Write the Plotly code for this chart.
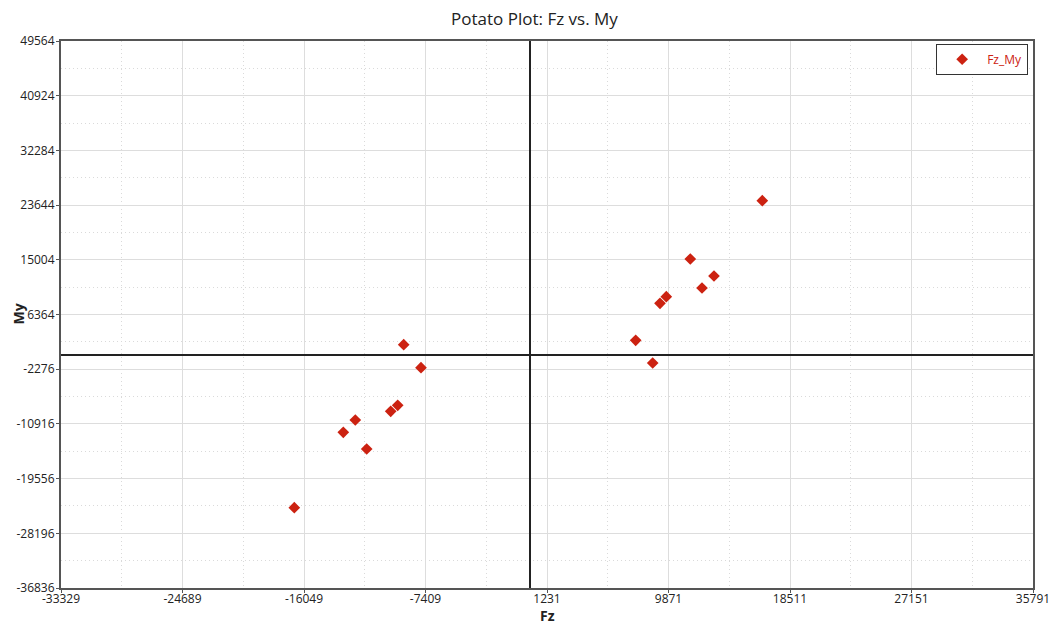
import plotly.graph_objects as go

fz = [-8959, -7729, -9386, -9884, -12401, -13254, -11591, -16739,
      16541, 11421, 13106, 12253, 9714, 9266, 7538, 8747]
my = [1594, -2038, -7977, -8925, -10299, -12242, -14880, -24151,
      24340, 15131, 12446, 10550, 9176, 8134, 2290, -1296]

x_ticks = [-33329, -24689, -16049, -7409, 1231, 9871, 18511, 27151, 35791]
y_ticks = [-36836, -28196, -19556, -10916, -2276, 6364, 15004, 23644, 32284, 40924, 49564]

red = "#CC2211"
font = "Open Sans, Noto Sans, sans-serif"

fig = go.Figure()
fig.add_trace(go.Scatter(
    x=fz, y=my, mode="markers", name="Fz_My",
    marker=dict(symbol="diamond", size=9, color=red),
))

axis_common = dict(
    showline=True, linecolor="#555555", linewidth=2, mirror=True,
    showgrid=True, gridcolor="#DDDDDD", gridwidth=1,
    zeroline=True, zerolinecolor="#222222", zerolinewidth=1.5,
    ticks="outside", ticklen=3, tickcolor="#555555",
    tickfont=dict(family=font, size=12, color="#222222"),
    automargin=False,
)

minor_common = dict(dtick=8640, showgrid=True, gridcolor="#DADADA", griddash="1px,3px", ticks="")

fig.update_xaxes(
    range=[x_ticks[0], x_ticks[-1]], tickvals=x_ticks, ticktext=[str(v) for v in x_ticks],
    minor=dict(tick0=x_ticks[0] + 4320, **minor_common),
    ticklabelstandoff=-4,
    **axis_common,
)
fig.update_yaxes(
    range=[y_ticks[0], y_ticks[-1]], tickvals=y_ticks, ticktext=[str(v) for v in y_ticks],
    minor=dict(tick0=y_ticks[0] + 4320, **minor_common),
    ticklabelstandoff=-1,
    **axis_common,
)

fig.add_annotation(text="<b>Fz</b>", xref="paper", yref="paper", x=0.5, y=0,
                   xanchor="center", yanchor="middle", yshift=-27, showarrow=False,
                   font=dict(family=font, size=14, color="#222222"))
fig.add_annotation(text="<b>My</b>", xref="paper", yref="paper", x=0, y=0.5,
                   xanchor="center", yanchor="middle", xshift=-43, textangle=-90, showarrow=False,
                   font=dict(family=font, size=14, color="#222222"))

fig.update_layout(
    width=1053, height=627,
    margin=dict(l=53, r=28, t=33, b=47, autoexpand=False),
    paper_bgcolor="white", plot_bgcolor="white",
    title=dict(text="Potato Plot: Fz vs. My", x=0.5, xanchor="center", y=1 - 11 / 627, yanchor="middle",
               font=dict(family=font, size=17, color="#222222"), automargin=False),
    showlegend=True,
    legend=dict(x=0.995, xanchor="right", y=0.995, yanchor="top",
                bordercolor="#333333", borderwidth=1, bgcolor="white",
                font=dict(family=font, size=12, color=red), itemwidth=40),
)

fig.write_html("out.html")
